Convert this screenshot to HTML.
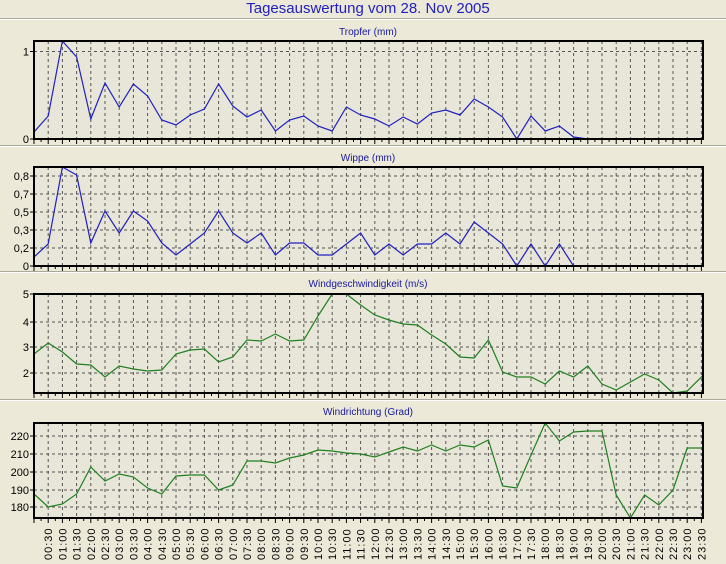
<!DOCTYPE html>
<html><head><meta charset="utf-8"><style>
html,body{margin:0;padding:0;background:#ECE9D8;}
svg{display:block;font-family:"Liberation Sans",sans-serif;}
</style></head><body>
<svg id="s" width="726" height="564" xmlns="http://www.w3.org/2000/svg">
<rect width="726" height="564" fill="#ECE9D8"/>
<text x="368" y="13" text-anchor="middle" font-size="15" fill="#2020C0">Tagesauswertung vom 28. Nov 2005</text>
<g stroke="#A9A89C" stroke-width="1"><line x1="0" y1="18.5" x2="726" y2="18.5"/><line x1="0" y1="145.5" x2="726" y2="145.5"/><line x1="0" y1="271.5" x2="726" y2="271.5"/><line x1="0" y1="399.5" x2="726" y2="399.5"/></g>
<g stroke="#fff" stroke-width="1"><line x1="0" y1="19.5" x2="726" y2="19.5"/><line x1="0" y1="146.5" x2="726" y2="146.5"/><line x1="0" y1="272.5" x2="726" y2="272.5"/><line x1="0" y1="400.5" x2="726" y2="400.5"/></g>
<g id="g"></g>
</svg>
<script>
var NS="http://www.w3.org/2000/svg",g=document.getElementById('g');
function el(t,a,txt){var e=document.createElementNS(NS,t);for(var k in a)e.setAttribute(k,a[k]);if(txt)e.textContent=txt;g.appendChild(e);return e;}
var L=34,R=703,dx=14.2;
function X(i){return L+i*dx;}
function panel(top,bot,title,ty,labels,data,color){
 el('rect',{x:L,y:top,width:R-L,height:bot-top,fill:'#E8E6D8'});
 for(var i=1;i<48;i++){var x=X(i);el('line',{x1:x,y1:top,x2:x,y2:bot,stroke:'#555','stroke-width':1,'stroke-dasharray':'3,3'});}
 labels.forEach(function(l){el('line',{x1:L,y1:l[1],x2:R,y2:l[1],stroke:'#555','stroke-width':1,'stroke-dasharray':'3,3'});
  el('line',{x1:L-4,y1:l[1],x2:L,y2:l[1],stroke:'#000'});
  el('text',{x:L-5,y:l[1]+4,'text-anchor':'end','font-size':11,fill:'#000'},l[0]);});
 for(var i=0;i<=94;i++){var x=L+i*dx/2;el('line',{x1:x,y1:bot,x2:x,y2:bot+(i%2?3:5),stroke:'#000'});}
 var p=data.map(function(v,i){return (i==48?R:X(i))+','+v;}).join(' ');
 el('polyline',{points:p,fill:'none',stroke:color,'stroke-width':1.2});
 el('rect',{x:L,y:top,width:R-L,height:bot-top,fill:'none',stroke:'#000','stroke-width':2});
 el('text',{x:368,y:ty,'text-anchor':'middle','font-size':10,fill:'#1818A0'},title);
}
panel(41,139,'Tropfer (mm)',35,[['1',51.5],['0',139]],
[132,116,41,57,119,83,107,84,96,120,125,115,109,84,106,117,110,131,120,116,126,131,107,115,119,126,117,124,113,110,115,99,107,117,139,116,131,126,137,139],'#2020C0');
panel(167,266,'Wippe (mm)',161,[['0,8',176],['0,7',194],['0,5',212],['0,3',230],['0,2',248],['0',266]],
[257,244,167,175,243,211,233,211,221,243,255,244,233,211,233,243,233,255,243,243,255,255,244,233,255,244,255,244,244,233,244,222,233,244,266,244,266,244,266],'#2020C0');
panel(294,393,'Windgeschwindigkeit (m/s)',287,[['5',294],['4',322],['3',347],['2',373]],
[354,343,352,364,365,377,366,369,371,370,354,350,349,362,357,340,341,334,341,340,316,294,294,305,315,320,324,325,335,344,357,358,340,372,377,377,384,371,377,366,384,390,382,374,380,393,391,377,375],'#208020');
panel(423,518,'Windrichtung (Grad)',415,[['220',436],['210',454],['200',472],['190',490],['180',507]],
[494,507,504,494,467,481,474,477,488,494,476,475,475,490,485,461,461,463,458,455,450,451,453,454,457,452,447,451,445,451,445,447,440,486,488,455,423,441,432,431,431,495,518,495,505,490,448,448,448],'#208020');
for(var i=1;i<48;i++){var h=Math.floor(i/2),m=i%2?'30':'00';var s=(h<10?'0':'')+h+':'+m;
 var x=X(i)+4;el('text',{x:x,y:560,transform:'rotate(-90 '+x+' 560)','font-size':11,fill:'#000','letter-spacing':'1'},s);}
</script>
</body></html>
